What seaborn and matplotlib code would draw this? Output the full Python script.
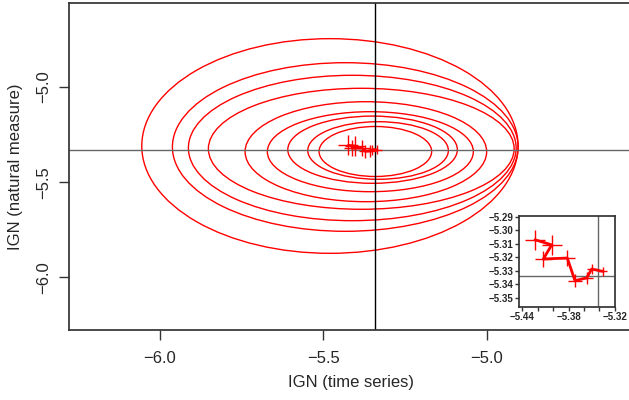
import numpy as np
import pandas as pd
import matplotlib
matplotlib.use("Agg")
import matplotlib.pyplot as plt
from matplotlib.patches import Ellipse
import seaborn as sns

# estimated IGN path (one cross per step)
est_x = [-5.4235, -5.4018, -5.4127, -5.3816, -5.3716, -5.3564, -5.3499, -5.3356]
est_y = [-5.3069, -5.3107, -5.3212, -5.3205, -5.3373, -5.3353, -5.3287, -5.3304]
cross_size = [207, 207, 144, 132, 92, 74, 52, 42]

# confidence ellipses: centre and half axes
ell_cx = [-5.3410, -5.3327, -5.3495, -5.3563, -5.3700, -5.3841, -5.4116, -5.4330, -5.4800]
ell_cy = [-5.3389, -5.3337, -5.3295, -5.3400, -5.3400, -5.3247, -5.3205, -5.3153, -5.3100]
ell_a = [0.1722, 0.2150, 0.2593, 0.3150, 0.3694, 0.4676, 0.5012, 0.5287, 0.5754]
ell_b = [0.1314, 0.1513, 0.1766, 0.2102, 0.2627, 0.3179, 0.3820, 0.4430, 0.5640]

# reference values
ref_x = -5.342
ref_y = -5.3337

main_xticks = [-6.0, -5.5, -5.0]
main_yticks = [-6.0, -5.5, -5.0]
ins_xticks = [-5.44, -5.42, -5.40, -5.38, -5.36, -5.34, -5.32]
ins_xlabels = ["\u22125.44", "", "", "\u22125.38", "", "", "\u22125.32"]
ins_yticks = [-5.35, -5.34, -5.33, -5.32, -5.31, -5.30, -5.29]

sns.set_theme(style="ticks")
plt.rcParams["font.family"] = ["Liberation Sans", "DejaVu Sans"]
plt.rcParams["axes.edgecolor"] = "#333333"

df = pd.DataFrame({"x": est_x, "y": est_y, "s": cross_size})

fig = plt.figure(figsize=(6.29, 4.0), dpi=100)
ax = fig.add_axes([69 / 629, 70 / 400, 564 / 629, 327.3 / 400])

for cx, cy, a, b in zip(ell_cx, ell_cy, ell_a, ell_b):
    ax.add_patch(Ellipse((cx, cy), 2 * a, 2 * b, fill=False, edgecolor="red", lw=1))

ax.axvline(ref_x, color="black", lw=1)
ax.axhline(ref_y, color="#666666", lw=1)

sns.lineplot(data=df, x="x", y="y", sort=False, estimator=None, color="red", lw=2, ax=ax)
sns.scatterplot(data=df, x="x", y="y", size="s", sizes=(min(cross_size), max(cross_size)),
                marker="+", color="red", linewidth=1, legend=False, ax=ax, zorder=3)

ax.set_xlim(-6.278, -4.553)
ax.set_ylim(-6.277, -4.557)
ax.set_xticks(main_xticks)
ax.set_xticklabels(["\u2212%.1f" % abs(v) for v in main_xticks])
ax.set_yticks(main_yticks)
ax.set_yticklabels(["\u2212%.1f" % abs(v) for v in main_yticks], rotation=90, va="center")
ax.tick_params(direction="out", length=7, width=1, labelsize=12, pad=8, color="#333333")
ax.tick_params(axis="y", pad=6)
ax.spines["right"].set_visible(False)
ax.set_xlabel("IGN (time series)", fontsize=12)
ax.set_ylabel("IGN (natural measure)", fontsize=12)
ax.xaxis.set_label_coords((351 - 69) / 564, (330 - 375) / 327.3)
ax.yaxis.set_label_coords((23 - 69) / 564, 0.5)

# zoomed inset
axi = fig.add_axes([519 / 629, (400 - 306.7) / 400, 96 / 629, 91 / 400])
axi.set_facecolor("white")
axi.axvline(ref_x, color="#666666", lw=1)
axi.axhline(ref_y, color="#666666", lw=1)
sns.lineplot(data=df, x="x", y="y", sort=False, estimator=None, color="red", lw=2, ax=axi)
sns.scatterplot(data=df, x="x", y="y", size="s", sizes=(min(cross_size), max(cross_size)),
                marker="+", color="red", linewidth=1, legend=False, ax=axi, zorder=3)
axi.set_xlim(-5.4443, -5.3196)
axi.set_ylim(-5.3567, -5.289)
axi.set_xticks(ins_xticks)
axi.set_xticklabels(ins_xlabels)
axi.set_yticks(ins_yticks)
axi.set_yticklabels(["\u2212%.2f" % abs(v) for v in ins_yticks])
axi.tick_params(direction="out", length=3, width=1, pad=1, color="#333333")
for lab in axi.get_xticklabels() + axi.get_yticklabels():
    lab.set_family(["Liberation Sans Narrow", "Liberation Sans"])
    lab.set_fontweight("bold")
    lab.set_fontsize(7)
axi.set_xlabel("")
axi.set_ylabel("")

fig.savefig("out.png", dpi=100)
